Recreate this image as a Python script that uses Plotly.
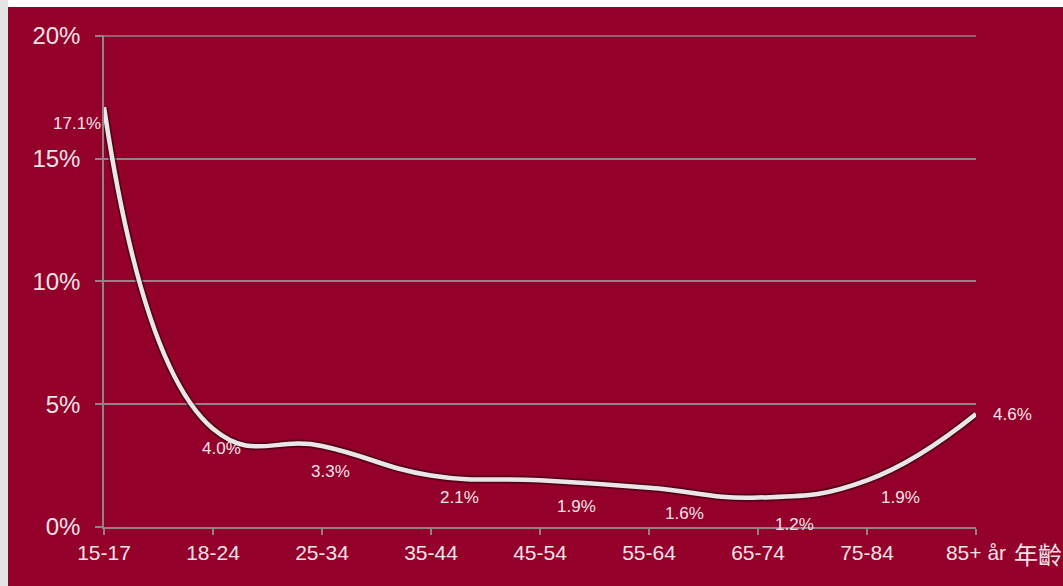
import plotly.graph_objects as go

# ---- data ----
categories = ["15-17", "18-24", "25-34", "35-44", "45-54", "55-64", "65-74", "75-84", "85+ år"]
values = [17.1, 4.0, 3.3, 2.1, 1.9, 1.6, 1.2, 1.9, 4.6]
y_ticks = [0, 5, 10, 15, 20]
y_tick_labels = ["0%", "5%", "10%", "15%", "20%"]
axis_title = "年齡"

# ---- style ----
RED = "#930029"
TXT = "#f3e3e8"
GRID = "#938389"
label_dx = [-1, 8, 8, 28, 36, 35, 36, 33, 36]
label_dy = [-16, -20, -26, -22, -26, -26, -27, -17, 0]
label_anchor = ["right", "center", "center", "center", "center", "center", "center", "center", "center"]

xs = list(range(len(categories)))

fig = go.Figure()
# soft shadow under the line
fig.add_trace(go.Scatter(x=xs, y=values, mode="lines",
                         line=dict(color="rgba(40,0,10,0.55)", width=8, shape="spline", smoothing=1.3),
                         hoverinfo="skip", showlegend=False))
fig.add_trace(go.Scatter(x=xs, y=values, mode="lines",
                         line=dict(color="#e9e6e7", width=4.5, shape="spline", smoothing=1.3),
                         showlegend=False))

for i, v in enumerate(values):
    fig.add_annotation(x=xs[i], y=v, text=f"{v:.1f}%", showarrow=False,
                       xanchor=label_anchor[i], yanchor="middle",
                       xshift=label_dx[i], yshift=label_dy[i],
                       font=dict(family="Liberation Sans, Arial, sans-serif", size=17, color=TXT))

fig.add_annotation(xref="paper", yref="paper", x=1.0413, y=-0.053, text=axis_title,
                   showarrow=False, xanchor="left", yanchor="middle",
                   font=dict(family="Noto Sans CJK TC, sans-serif", size=24, color=TXT))

# top gridline (at the range edge plotly omits it)
fig.add_shape(type="line", xref="paper", yref="y", x0=-7 / 872, x1=1, y0=y_ticks[-1], y1=y_ticks[-1],
              line=dict(color=GRID, width=1.5), layer="below")

# white top strip and grey left strip (outside red panel)
fig.add_shape(type="rect", xref="paper", yref="paper", x0=-0.2, x1=1.3, y0=1.0569, y1=1.2,
              fillcolor="white", line=dict(width=0), layer="above")
fig.add_shape(type="rect", xref="paper", yref="paper", x0=-0.2, x1=(8 - 104) / 872, y0=-0.2, y1=1.2,
              fillcolor="#e4e4e4", line=dict(width=0), layer="above")

fig.update_layout(
    width=1063, height=586,
    margin=dict(l=104, r=87, t=35, b=59),
    paper_bgcolor=RED, plot_bgcolor=RED,
    font=dict(family="Liberation Sans, Arial, sans-serif", color=TXT),
    xaxis=dict(range=[0, len(categories) - 1], tickmode="array", tickvals=xs, ticktext=categories,
               showgrid=False, zeroline=False, showline=True, linecolor=GRID, linewidth=1.5,
               ticks="outside", ticklen=6, tickcolor=GRID, tickwidth=1.5,
               tickfont=dict(size=21, color=TXT)),
    yaxis=dict(range=[0, 20.04], tickmode="array", tickvals=y_ticks, ticktext=y_tick_labels,
               showgrid=True, gridcolor=GRID, gridwidth=1.5, zeroline=False,
               showline=True, linecolor=GRID, linewidth=1.5,
               ticks="outside", ticklen=7, tickcolor=GRID, tickwidth=1.5,
               ticklabelstandoff=10,
               tickfont=dict(size=24, color=TXT)),
)

fig.write_html("out.html")
